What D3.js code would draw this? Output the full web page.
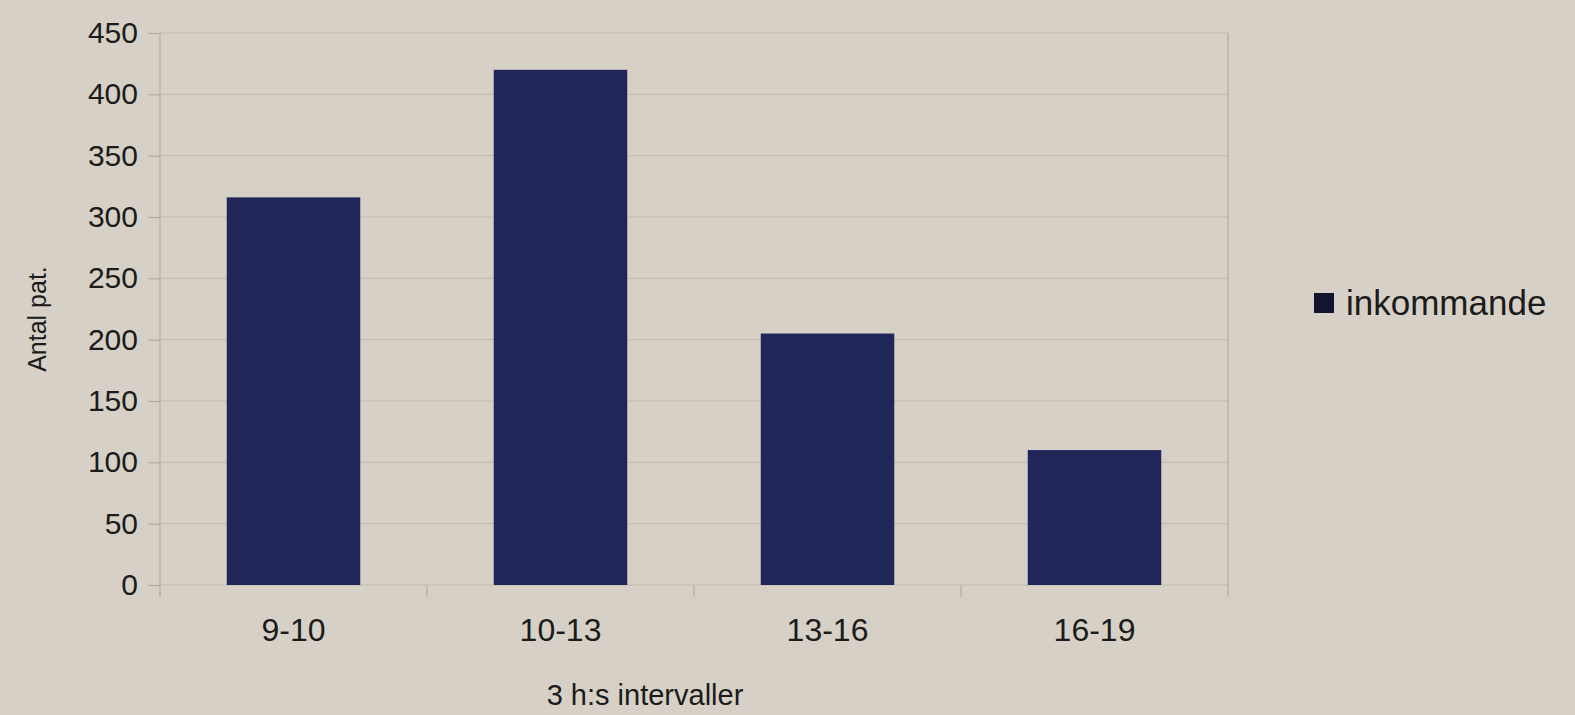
<!DOCTYPE html>
<html>
<head>
<meta charset="utf-8">
<script src="https://cdn.jsdelivr.net/npm/d3@7"></script>
<style>
  html, body { margin: 0; padding: 0; background: #d7d0c6; }
  svg { display: block; }
  text { font-family: "Liberation Sans", Arial, sans-serif; fill: #1b1b1b; }
</style>
</head>
<body>
<svg id="chart" width="1575" height="715"></svg>
<script>
// ---- data ----
const categories = ["9-10", "10-13", "13-16", "16-19"];
const values = [316, 420, 205, 110];
const yTicks = [0, 50, 100, 150, 200, 250, 300, 350, 400, 450];
const seriesName = "inkommande";
const yTitle = "Antal pat.";
const xTitle = "3 h:s intervaller";

// ---- layout ----
const W = 1575, H = 715;
const plot = { left: 160, right: 1228, top: 33, bottom: 585 };
const barColor = "#20255a";
const gridColor = "#c3bcb0";
const frameColor = "#b3ac9f";

const svg = d3.select("#chart");
svg.append("rect").attr("width", W).attr("height", H).attr("fill", "#d7d0c6");

const x = d3.scaleBand().domain(categories).range([plot.left, plot.right]).paddingInner(0.5).paddingOuter(0.25);
const xb = d3.scaleBand().domain(categories).range([plot.left, plot.right]).padding(0);
const y = d3.scaleLinear().domain([0, 450]).range([plot.bottom, plot.top]);

// gridlines + y ticks
const yAxis = d3.axisLeft(y).tickValues(yTicks).tickSize(12).tickPadding(10).tickFormat(d3.format("d"));
const gy = svg.append("g").attr("transform", `translate(${plot.left},0)`).call(yAxis);
gy.select(".domain").remove();
gy.selectAll(".tick line").attr("stroke", frameColor).attr("stroke-width", 1.2);
gy.selectAll(".tick text").style("font-size", "30px").attr("fill", "#1b1b1b");

svg.append("g").selectAll("line").data(yTicks).join("line")
  .attr("x1", plot.left).attr("x2", plot.right)
  .attr("y1", d => y(d)).attr("y2", d => y(d))
  .attr("stroke", gridColor).attr("stroke-width", 1.2);

// frame left / right
svg.append("line").attr("x1", plot.left).attr("x2", plot.left)
  .attr("y1", plot.top).attr("y2", plot.bottom + 12).attr("stroke", frameColor).attr("stroke-width", 1.2);
svg.append("line").attr("x1", plot.right).attr("x2", plot.right)
  .attr("y1", plot.top).attr("y2", plot.bottom + 12).attr("stroke", frameColor).attr("stroke-width", 1.2);

// x category boundary ticks
svg.append("g").selectAll("line").data(categories.slice(1)).join("line")
  .attr("x1", d => xb(d)).attr("x2", d => xb(d))
  .attr("y1", plot.bottom).attr("y2", plot.bottom + 12)
  .attr("stroke", frameColor).attr("stroke-width", 1.2);

// x labels
const xAxis = d3.axisBottom(x).tickSize(0).tickPadding(33);
const gx = svg.append("g").attr("transform", `translate(0,${plot.bottom})`).call(xAxis);
gx.select(".domain").remove();
gx.selectAll(".tick text").style("font-size", "32px").attr("fill", "#1b1b1b");

// bars
svg.append("g").selectAll("rect").data(values).join("rect")
  .attr("x", (d, i) => x(categories[i]))
  .attr("width", x.bandwidth())
  .attr("y", d => y(d))
  .attr("height", d => y(0) - y(d))
  .attr("fill", barColor);

// axis titles
svg.append("text").attr("x", 645).attr("y", 705).attr("text-anchor", "middle")
  .style("font-size", "29px").text(xTitle);
svg.append("text").attr("transform", `translate(46,${(plot.top + plot.bottom) / 2 + 10}) rotate(-90)`)
  .attr("text-anchor", "middle").style("font-size", "25px").text(yTitle);

// legend
const lg = svg.append("g").attr("transform", "translate(1314,293)");
lg.append("rect").attr("width", 20).attr("height", 20).attr("fill", "#121530");
lg.append("text").attr("x", 32).attr("y", 22).style("font-size", "35px").text(seriesName);
</script>
</body>
</html>
